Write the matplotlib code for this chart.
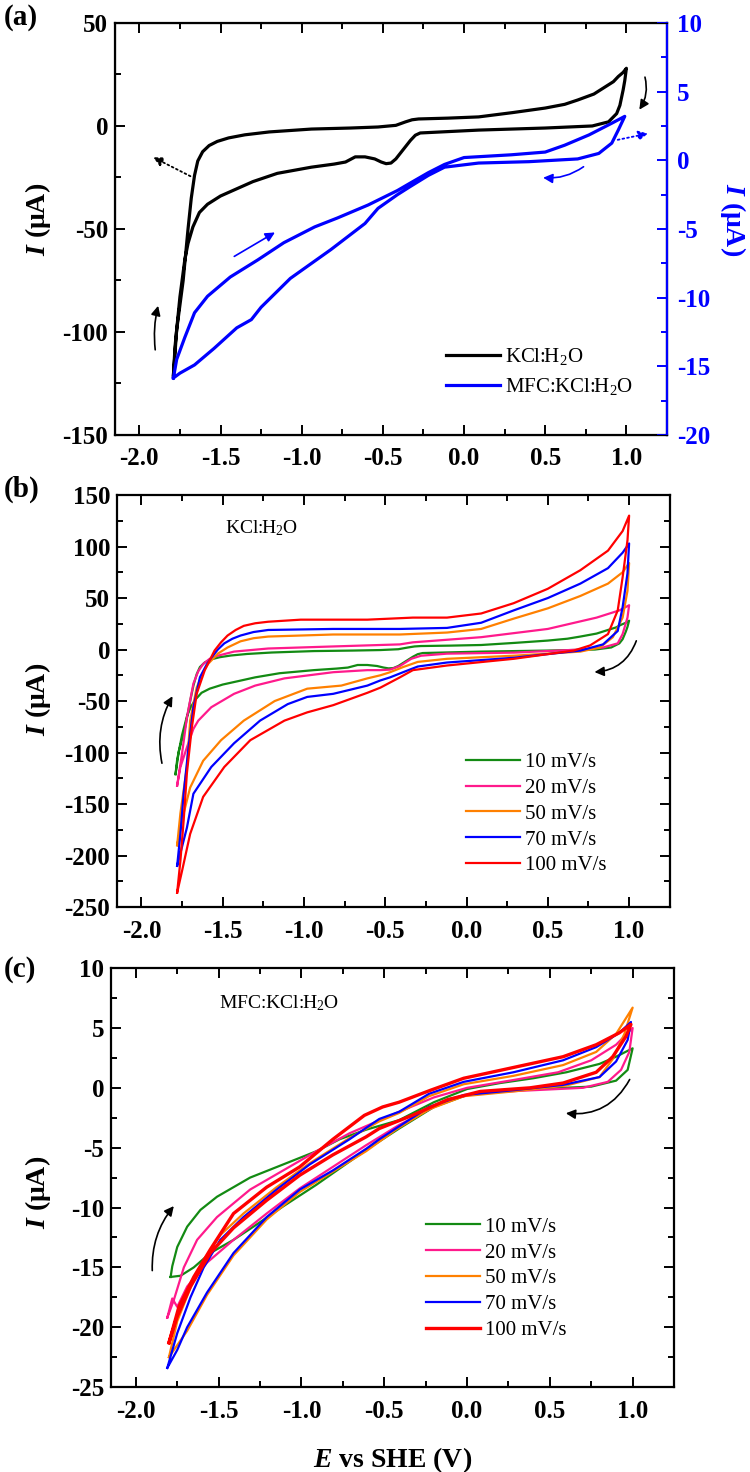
import numpy as np
import matplotlib
matplotlib.use('Agg')
import matplotlib.pyplot as plt
from matplotlib.ticker import MultipleLocator, FormatStrFormatter

plt.rcParams['font.family'] = 'Liberation Serif'
plt.rcParams['mathtext.fontset'] = 'custom'
plt.rcParams['mathtext.rm'] = 'Liberation Serif'
plt.rcParams['mathtext.it'] = 'Liberation Serif:style=italic:weight=bold'
plt.rcParams['mathtext.bf'] = 'Liberation Serif:weight=bold'
plt.rcParams['axes.unicode_minus'] = False

# ---------------- data (E in V vs SHE, I in uA) ----------------
# (a) KCl:H2O, 10 mV/s -- forward scan then reverse scan
kcl_fwd_E = [-1.79, -1.77, -1.73, -1.70, -1.68, -1.66, -1.64, -1.61, -1.57, -1.52, -1.45, -1.35,
             -1.20, -0.94, -0.70, -0.53, -0.42, -0.36, -0.32, -0.28, -0.10, 0.09, 0.30, 0.50,
             0.62, 0.70, 0.80, 0.87, 0.92, 0.95, 0.98, 1.00]
kcl_fwd_I = [-121, -99, -75, -50, -35, -24, -17, -12.5, -9.5, -7.5, -5.8, -4.3,
             -2.9, -1.5, -1.0, -0.5, 0.3, 2.0, 3.0, 3.4, 3.8, 4.4, 6.5, 8.7,
             10.5, 12.6, 15.5, 19, 21.5, 24, 26, 28]
kcl_rev_E = [1.00, 0.99, 0.98, 0.96, 0.94, 0.89, 0.79, 0.50, 0.09, -0.27, -0.30, -0.33,
             -0.36, -0.39, -0.42, -0.45, -0.48, -0.51, -0.55, -0.61, -0.67, -0.73, -0.80, -0.94,
             -1.15, -1.30, -1.40, -1.50, -1.58, -1.63, -1.67, -1.70, -1.72, -1.75, -1.78, -1.79]
kcl_rev_I = [28, 22, 17.5, 10, 6, 2, 0, -1, -2, -3.4, -4.5, -7,
             -10, -13, -16, -18, -18.3, -17.5, -16, -15, -15, -17.5, -18.5, -20,
             -23, -27, -30.5, -34, -38, -42, -49, -57, -65, -83, -107, -121]

# (a) MFC:KCl:H2O, 10 mV/s (right axis)
mfc_fwd_E = [-1.79, -1.77, -1.72, -1.66, -1.58, -1.44, -1.27, -1.11, -0.92, -0.78, -0.70, -0.59,
             -0.41, -0.33, -0.22, -0.12, 0.00, 0.29, 0.50, 0.62, 0.77, 0.91, 0.99]
mfc_fwd_I = [-15.85, -14.5, -12.9, -11.1, -9.9, -8.5, -7.25, -6.0, -4.85, -4.2, -3.8, -3.25,
             -2.2, -1.65, -0.9, -0.3, 0.2, 0.4, 0.6, 1.1, 1.85, 2.7, 3.2]
mfc_rev_E = [0.99, 0.95, 0.91, 0.83, 0.70, 0.40, 0.09, -0.12, -0.22, -0.33, -0.41, -0.53,
             -0.61, -0.82, -1.07, -1.25, -1.31, -1.40, -1.54, -1.66, -1.75, -1.79]
mfc_rev_I = [3.2, 2.2, 1.25, 0.5, 0.1, -0.1, -0.2, -0.5, -1.1, -1.9, -2.5, -3.5,
             -4.6, -6.5, -8.6, -10.7, -11.6, -12.2, -13.7, -14.9, -15.5, -15.85]

# (b) KCl:H2O at several scan rates
rates = ['10 mV/s', '20 mV/s', '50 mV/s', '70 mV/s', '100 mV/s']
colors = ['#138a13', '#ff1a8c', '#ff8000', '#0000ff', '#ff0000']

b20_fwd_E = [-1.78, -1.75, -1.72, -1.68, -1.65, -1.62, -1.58, -1.53, -1.43, -1.22, -0.82, -0.41,
             -0.33, 0.09, 0.50, 0.80, 0.94, 1.00]
b20_fwd_I = [-132, -101, -66, -33, -21, -14, -9, -6, -2, 1, 3, 5, 7, 12, 20, 31, 38, 43]
b20_rev_E = [1.00, 0.99, 0.96, 0.93, 0.84, 0.70, 0.29, -0.12, -0.28, -0.34, -0.41, -0.47,
             -0.53, -0.61, -0.82, -1.12, -1.30, -1.43, -1.57, -1.65, -1.68, -1.72, -1.76, -1.78]
b20_rev_I = [43, 31, 15, 6, 2, 0, -3, -4, -6, -9, -16, -19.5, -20, -20, -22, -28, -35, -43, -56,
             -69, -77, -95, -114, -132]

b50_fwd_E = [-1.78, -1.76, -1.72, -1.70, -1.66, -1.62, -1.59, -1.53, -1.47, -1.39, -1.31, -1.22,
             -0.82, -0.41, -0.12, 0.09, 0.29, 0.50, 0.70, 0.87, 0.96, 1.00]
b50_fwd_I = [-190, -159, -114, -69, -37, -22, -14, -4, 2, 8, 11, 12.6, 14.6, 14.6,
             16.5, 20, 30, 40, 52, 64, 75, 84]
b50_rev_E = [1.00, 0.99, 0.96, 0.90, 0.82, 0.70, 0.29, -0.12, -0.30, -0.39, -0.47, -0.53,
             -0.61, -0.77, -0.98, -1.18, -1.37, -1.51, -1.62, -1.70, -1.74, -1.78]
b50_rev_I = [84, 57, 31, 12, 2, -2, -6, -9, -12, -17, -22, -25,
             -28, -35, -38, -50, -69, -88, -108, -134, -159, -190]

b70_fwd_E = [-1.78, -1.76, -1.74, -1.71, -1.68, -1.64, -1.60, -1.57, -1.53, -1.49, -1.44, -1.39,
             -1.31, -1.22, -0.82, -0.41, -0.12, 0.09, 0.29, 0.50, 0.70, 0.87, 0.96, 1.00]
b70_fwd_I = [-210, -179, -140, -95, -56, -27, -15, -8, 0, 6, 10.5, 13.6, 17, 19, 20, 20,
             21, 26, 38, 50, 64, 79, 94, 103]
b70_rev_E = [1.00, 0.99, 0.96, 0.93, 0.84, 0.70, 0.29, -0.12, -0.30, -0.39, -0.47, -0.53,
             -0.61, -0.82, -0.98, -1.10, -1.27, -1.43, -1.57, -1.68, -1.72, -1.78]
b70_rev_I = [103, 74, 41, 18, 5, -1, -8, -12.6, -16.5, -22, -27, -30,
             -35, -43, -46, -53, -69, -91, -114, -140, -173, -210]

b100_fwd_E = [-1.78, -1.76, -1.74, -1.72, -1.69, -1.66, -1.61, -1.55, -1.51, -1.47, -1.42, -1.37,
              -1.30, -1.22, -1.02, -0.61, -0.33, -0.12, 0.09, 0.29, 0.50, 0.70, 0.87, 0.96, 1.00]
b100_fwd_I = [-236, -205, -166, -120, -76, -43, -20, -1, 7, 13.6, 19, 23, 25.5, 27, 29,
              29, 31, 31, 35, 45, 59, 77, 96, 115, 130]
b100_rev_E = [1.00, 0.99, 0.96, 0.93, 0.87, 0.76, 0.66, 0.29, -0.12, -0.33, -0.41, -0.53,
              -0.61, -0.82, -0.98, -1.12, -1.33, -1.49, -1.62, -1.70, -1.75, -1.78]
b100_rev_I = [130, 106, 70, 38, 15, 4, -1, -9, -15.5, -20, -27, -37,
              -42, -54, -61, -69, -88, -114, -143, -179, -215, -236]

# (c) MFC:KCl:H2O at several scan rates
c10_fwd_E = [-1.79, -1.78, -1.75, -1.69, -1.61, -1.51, -1.31, -1.11, -0.91, -0.77, -0.61, -0.41,
             -0.20, 0.00, 0.20, 0.40, 0.60, 0.80, 0.90, 1.00]
c10_fwd_I = [-15.8, -14.9, -13.3, -11.6, -10.2, -9.1, -7.5, -6.4, -5.3, -4.3, -3.5, -2.7,
             -1.2, -0.1, 0.4, 0.8, 1.3, 2.0, 2.6, 3.3]
c10_rev_E = [1.00, 0.97, 0.90, 0.75, 0.50, 0.20, 0.00, -0.20, -0.41, -0.61, -0.91, -1.11,
             -1.29, -1.41, -1.55, -1.65, -1.73, -1.79]
c10_rev_I = [3.3, 1.5, 0.6, 0.1, -0.05, -0.2, -0.6, -1.6, -3.4, -5.2, -8.1, -9.9,
             -11.6, -12.7, -13.8, -15.0, -15.7, -15.8]

c20_fwd_E = [-1.81, -1.77, -1.71, -1.63, -1.51, -1.31, -1.11, -0.91, -0.71, -0.41, -0.20, 0.00,
             0.30, 0.55, 0.75, 0.90, 1.00]
c20_fwd_I = [-19.2, -17.7, -15.0, -12.7, -10.8, -8.5, -6.9, -5.3, -3.8, -2.0, -0.8, 0.0,
             0.7, 1.3, 2.3, 3.6, 5.0]
c20_rev_E = [1.00, 0.98, 0.93, 0.85, 0.70, 0.40, 0.10, -0.10, -0.41, -0.61, -0.81, -1.01,
             -1.21, -1.41, -1.57, -1.69, -1.75, -1.78, -1.81]
c20_rev_I = [5.0, 3.0, 1.5, 0.5, 0.0, -0.2, -0.4, -0.9, -3.1, -4.8, -6.6, -8.4,
             -10.5, -12.7, -14.6, -16.6, -18.3, -17.6, -19.2]

c50_fwd_E = [-1.80, -1.75, -1.67, -1.59, -1.49, -1.35, -1.15, -0.95, -0.71, -0.53, -0.41, -0.23,
             -0.02, 0.28, 0.58, 0.78, 0.90, 1.00]
c50_fwd_I = [-22.5, -19.5, -16.7, -14.4, -12.3, -10.5, -8.3, -6.3, -4.2, -2.8, -2.1, -0.7,
             0.3, 1.0, 1.9, 3.0, 4.5, 6.7]
c50_rev_E = [1.00, 0.95, 0.88, 0.80, 0.60, 0.28, -0.02, -0.23, -0.43, -0.61, -0.81, -1.01,
             -1.21, -1.41, -1.57, -1.69, -1.80]
c50_rev_I = [6.7, 4.5, 2.4, 0.9, 0.2, -0.3, -0.7, -1.8, -3.5, -5.3, -7.0, -8.7,
             -11.0, -14.0, -17.3, -20.3, -22.5]

c70_fwd_E = [-1.81, -1.75, -1.67, -1.59, -1.49, -1.35, -1.15, -0.95, -0.71, -0.53, -0.41, -0.23,
             -0.02, 0.28, 0.58, 0.78, 0.92, 0.99]
c70_fwd_I = [-23.4, -20.5, -17.5, -15.0, -12.7, -10.8, -8.5, -6.4, -4.3, -2.6, -2.0, -0.5,
             0.5, 1.3, 2.3, 3.4, 4.6, 5.5]
c70_rev_E = [0.99, 0.97, 0.90, 0.80, 0.58, 0.28, -0.02, -0.23, -0.43, -0.53, -0.61, -0.81,
             -1.01, -1.21, -1.41, -1.57, -1.69, -1.75, -1.81]
c70_rev_I = [5.5, 4.0, 2.2, 0.9, 0.25, -0.2, -0.6, -1.6, -3.4, -4.3, -5.1, -6.9,
             -8.5, -10.8, -13.8, -17.1, -20.0, -21.9, -23.4]

c100_fwd_E = [-1.80, -1.74, -1.65, -1.55, -1.41, -1.21, -1.01, -0.81, -0.62, -0.51, -0.41, -0.22,
              -0.02, 0.28, 0.58, 0.78, 0.92, 0.99]
c100_fwd_I = [-21.3, -18.3, -15.8, -13.5, -10.5, -8.3, -6.6, -4.3, -2.3, -1.6, -1.2, -0.2,
              0.8, 1.7, 2.6, 3.6, 4.6, 5.3]
c100_rev_E = [0.99, 0.96, 0.88, 0.78, 0.58, 0.38, 0.08, -0.12, -0.33, -0.53, -0.61, -0.81,
              -1.01, -1.21, -1.41, -1.55, -1.67, -1.75, -1.80]
c100_rev_I = [5.3, 4.3, 2.6, 1.3, 0.4, 0.0, -0.3, -1.0, -2.3, -3.4, -4.1, -5.6,
              -7.3, -9.4, -11.7, -13.8, -16.6, -19.1, -21.3]


def loop(fE, fI, rE, rI):
    return np.r_[fE, rE], np.r_[fI, rI]


def style_axes(ax, ymaj, ymin, ylim, right_ticks=True):
    ax.set_xlim(-2.15, 1.25)
    ax.set_ylim(*ylim)
    ax.xaxis.set_major_locator(MultipleLocator(0.5))
    ax.xaxis.set_minor_locator(MultipleLocator(0.25))
    ax.yaxis.set_major_locator(MultipleLocator(ymaj))
    ax.yaxis.set_minor_locator(MultipleLocator(ymin))
    ax.xaxis.set_major_formatter(FormatStrFormatter('%.1f'))
    ax.yaxis.set_major_formatter(FormatStrFormatter('%d'))
    ax.tick_params(which='both', direction='in', top=True, right=right_ticks, width=1.4)
    ax.tick_params(which='major', length=7)
    ax.tick_params(which='minor', length=4)
    ax.tick_params(axis='x', which='major', pad=9, labelsize=18)
    ax.tick_params(axis='y', which='major', pad=5, labelsize=18)
    for lab in ax.get_xticklabels() + ax.get_yticklabels():
        lab.set_fontweight('bold')
    for s in ax.spines.values():
        s.set_linewidth(1.6)


def arrow(ax, start, end, color='black', rad=0.0, ls='-', lw=1.2):
    ax.annotate('', xy=end, xytext=start,
                arrowprops=dict(arrowstyle='-|>', color=color, lw=lw, ls=ls,
                                mutation_scale=14,
                                connectionstyle=f'arc3,rad={rad}'))


fig = plt.figure(figsize=(7.5, 14.72), dpi=100)

# ---------------- panel (a) ----------------
ax1 = fig.add_axes([0.1533, 0.7045, 0.736, 0.2799])
E, I = loop(kcl_fwd_E, kcl_fwd_I, kcl_rev_E, kcl_rev_I)
l1, = ax1.plot(E, I, color='black', lw=2.3, label=r'KCl:H$_2$O')
style_axes(ax1, 50, 25, (-150, 50), right_ticks=False)
ax1.set_ylabel(r'$I$ (μA)', fontsize=20, fontweight='bold')
ax1.yaxis.set_label_coords(-0.112, 0.524)

ax2 = ax1.twinx()
E, I = loop(mfc_fwd_E, mfc_fwd_I, mfc_rev_E, mfc_rev_I)
l2, = ax2.plot(E, I, color='#0000ff', lw=2.3, label=r'MFC:KCl:H$_2$O')
ax2.set_ylim(-20, 10)
ax2.yaxis.set_major_locator(MultipleLocator(5))
ax2.yaxis.set_minor_locator(MultipleLocator(2.5))
ax2.yaxis.set_major_formatter(FormatStrFormatter('%d'))
ax2.tick_params(which='both', direction='in', colors='#0000ff', width=1.4)
ax2.tick_params(which='major', length=7, pad=7, labelsize=18)
ax2.tick_params(which='minor', length=4)
for lab in ax2.get_yticklabels():
    lab.set_fontweight('bold')
ax2.spines['right'].set_color('#0000ff')
ax2.spines['right'].set_linewidth(1.6)
ax2.set_ylabel(r'$I$ (μA)', fontsize=20, fontweight='bold', color='#0000ff', rotation=270)
ax2.yaxis.set_label_coords(1.146, 0.522)

ax1.legend(handles=[l1, l2], loc='center left', bbox_to_anchor=(0.6, 0.154),
           frameon=False, fontsize=15, handlelength=2.6, handletextpad=0.2,
           borderpad=0, borderaxespad=0, labelspacing=0.45)

arrow(ax1, (-1.90, -110), (-1.88, -86), rad=-0.1)
arrow(ax1, (-1.67, -25), (-1.93, -14.6), ls=':', lw=1.3)
arrow(ax1, (-1.43, -64), (-1.15, -51), color='#0000ff')
arrow(ax1, (1.11, 25), (1.07, 6.8), rad=-0.25)
arrow(ax1, (0.93, -7), (1.15, -3.4), color='#0000ff', ls=':', lw=1.3)
arrow(ax1, (0.75, -19), (0.47, -25), color='#0000ff', rad=-0.2)

# ---------------- panel (b) ----------------
ax3 = fig.add_axes([0.156, 0.3838, 0.737, 0.2799])
b_loops = [
    loop(kcl_fwd_E, kcl_fwd_I, kcl_rev_E, kcl_rev_I),
    loop(b20_fwd_E, b20_fwd_I, b20_rev_E, b20_rev_I),
    loop(b50_fwd_E, b50_fwd_I, b50_rev_E, b50_rev_I),
    loop(b70_fwd_E, b70_fwd_I, b70_rev_E, b70_rev_I),
    loop(b100_fwd_E, b100_fwd_I, b100_rev_E, b100_rev_I),
]
for (E, I), c, r in zip(b_loops, colors, rates):
    ax3.plot(E, I, color=c, lw=1.6, label=r)
style_axes(ax3, 50, 25, (-250, 150))
ax3.set_ylabel(r'$I$ (μA)', fontsize=20, fontweight='bold')
ax3.yaxis.set_label_coords(-0.116, 0.505)
ax3.text(0.195, 0.92, r'KCl:H$_2$O', transform=ax3.transAxes, fontsize=14, va='center')
ax3.legend(loc='center left', bbox_to_anchor=(0.631, 0.226), frameon=False, fontsize=15,
           handlelength=2.6, handletextpad=0.25, borderpad=0, borderaxespad=0,
           labelspacing=0.3)
arrow(ax3, (-1.87, -113), (-1.80, -43), rad=-0.2)
arrow(ax3, (1.05, 11), (0.77, -22), rad=-0.35)

# ---------------- panel (c) ----------------
ax4 = fig.add_axes([0.148, 0.0577, 0.7507, 0.2846])
c_loops = [
    loop(c10_fwd_E, c10_fwd_I, c10_rev_E, c10_rev_I),
    loop(c20_fwd_E, c20_fwd_I, c20_rev_E, c20_rev_I),
    loop(c50_fwd_E, c50_fwd_I, c50_rev_E, c50_rev_I),
    loop(c70_fwd_E, c70_fwd_I, c70_rev_E, c70_rev_I),
    loop(c100_fwd_E, c100_fwd_I, c100_rev_E, c100_rev_I),
]
widths = [1.6, 1.6, 1.6, 1.6, 2.4]
for (E, I), c, r, w in zip(c_loops, colors, rates, widths):
    ax4.plot(E, I, color=c, lw=w, label=r)
style_axes(ax4, 5, 2.5, (-25, 10))
ax4.set_ylabel(r'$I$ (μA)', fontsize=20, fontweight='bold')
ax4.yaxis.set_label_coords(-0.103, 0.465)
ax4.set_xlabel(r'$E$ vs SHE (V)', fontsize=20, fontweight='bold')
ax4.xaxis.set_label_coords(0.5, -0.138)
ax4.text(0.192, 0.916, r'MFC:KCl:H$_2$O', transform=ax4.transAxes, fontsize=14, va='center')
ax4.legend(loc='center left', bbox_to_anchor=(0.5595, 0.259), frameon=False, fontsize=15,
           handlelength=2.6, handletextpad=0.25, borderpad=0, borderaxespad=0,
           labelspacing=0.3)
arrow(ax4, (-1.90, -15.5), (-1.76, -9.7), rad=-0.2)
arrow(ax4, (0.99, 0.9), (0.58, -2.1), rad=-0.35)

# panel letters
fig.text(0.005, 1 - 4 / 1472, '(a)', fontsize=21, fontweight='bold', va='top')
fig.text(0.005, 1 - 476 / 1472, '(b)', fontsize=21, fontweight='bold', va='top')
fig.text(0.005, 1 - 956 / 1472, '(c)', fontsize=21, fontweight='bold', va='top')

fig.savefig('out.png', dpi=100)
